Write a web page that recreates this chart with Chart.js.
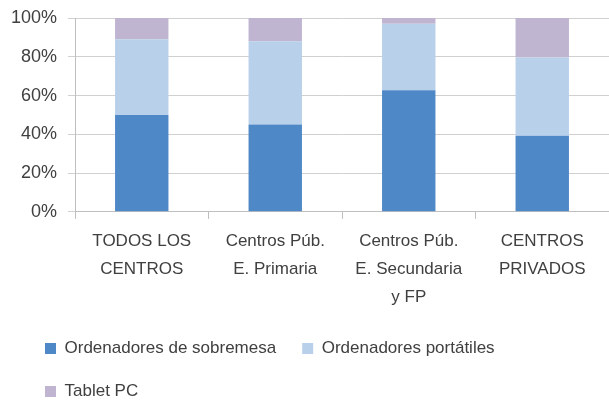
<!DOCTYPE html>
<html>
<head>
<meta charset="utf-8">
<script src="https://cdn.jsdelivr.net/npm/chart.js@4"></script>
<style>
html,body{margin:0;padding:0;background:#fff;}
#wrap{width:609px;height:401px;}
</style>
</head>
<body>
<div id="wrap"><canvas id="c" width="609" height="401"></canvas></div>
<script>
const categories = [
  ["TODOS LOS", "CENTROS"],
  ["Centros Púb.", "E. Primaria"],
  ["Centros Púb.", "E. Secundaria", "y FP"],
  ["CENTROS", "PRIVADOS"]
];
const seriesNames = ["Ordenadores de sobremesa", "Ordenadores portátiles", "Tablet PC"];
const sobremesa = [50, 45, 62.7, 39.2];
const portatiles = [39, 43, 34.3, 40.4];
const tablet = [11, 12, 3, 20.4];
const yTicks = [0, 20, 40, 60, 80, 100];

const colors = ["#4F88C7", "#B9D0EA", "#C0B5D1"];
const FONT = "'Liberation Sans', Arial, sans-serif";
const TXT = "#404040";

const legendShift = {
  id: 'legendShift',
  afterLayout(chart) {
    const lg = chart.legend;
    if (!lg) return;
    lg.left += 14;
    lg.top -= 5;
    lg.bottom -= 5;
  }
};

new Chart(document.getElementById('c'), {
  type: 'bar',
  data: {
    labels: categories,
    datasets: [sobremesa, portatiles, tablet].map((d, i) => ({
      label: seriesNames[i],
      data: d,
      backgroundColor: colors[i],
      borderWidth: 0,
      barPercentage: 1,
      categoryPercentage: 0.4
    }))
  },
  plugins: [legendShift],
  options: {
    responsive: false,
    animation: false,
    layout: { padding: { left: 5, right: 0, top: 18, bottom: -14 } },
    plugins: {
      tooltip: { enabled: false },
      legend: {
        position: 'bottom',
        align: 'start',
        labels: {
          font: { family: FONT, size: 17 },
          color: TXT,
          boxWidth: 11,
          boxHeight: 11,
          padding: 26
        }
      }
    },
    scales: {
      x: {
        stacked: true,
        grid: { display: true, drawOnChartArea: false, drawTicks: true, tickLength: 7, color: '#BFBFBF', offset: true },
        border: { color: '#BFBFBF', width: 1 },
        ticks: { font: { family: FONT, size: 17, lineHeight: 1.65 }, color: TXT, padding: 8, maxRotation: 0, autoSkip: false }
      },
      y: {
        stacked: true,
        min: 0,
        max: 100,
        afterFit: (s) => { s.width = 70; s.paddingTop = 0; s.paddingBottom = 0; },
        afterBuildTicks: (s) => { s.ticks = yTicks.map(v => ({ value: v })); },
        grid: { color: '#D0D0D0', tickLength: 7, lineWidth: 1 },
        border: { color: '#BFBFBF', width: 1 },
        ticks: { font: { family: FONT, size: 18 }, color: TXT, padding: 11, callback: v => v + '%' }
      }
    }
  }
});
</script>
</body>
</html>
